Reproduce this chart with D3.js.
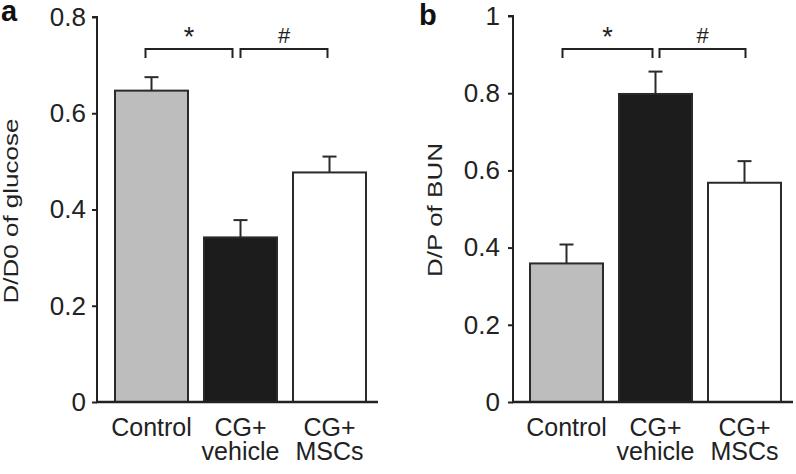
<!DOCTYPE html>
<html><head><meta charset="utf-8">
<script src="https://cdn.jsdelivr.net/npm/d3@7"></script>
<style>
html,body{margin:0;padding:0;background:#fff;}
svg{display:block;font-family:"Liberation Sans",Arial,Helvetica,sans-serif;}
</style></head>
<body>
<svg id="chart" width="796" height="474"></svg>
<script>
const categories = ["Control", "CG+|vehicle", "CG+|MSCs"];
const fills = ["#bdbdbd", "#1c1c1c", "#ffffff"];

const glucoseValues = [0.647, 0.342, 0.477];
const glucoseErrors = [0.028, 0.036, 0.033];
const glucoseTicks = [0, 0.2, 0.4, 0.6, 0.8];

const bunValues = [0.359, 0.798, 0.568];
const bunErrors = [0.049, 0.058, 0.056];
const bunTicks = [0, 0.2, 0.4, 0.6, 0.8, 1];

const sigMarks = ["*", "#"];

const svg = d3.select("#chart");

function panel(opt) {
  const g = svg.append("g");
  const x = d3.scaleBand().domain(categories).range(opt.xRange).paddingInner(0.18).paddingOuter(0.09);
  const y = d3.scaleLinear().domain(opt.domain).range([402, opt.yTop]);

  // bars
  g.selectAll("rect.bar").data(opt.values).join("rect")
    .attr("x", (d, i) => x(categories[i]))
    .attr("y", d => y(d))
    .attr("width", x.bandwidth())
    .attr("height", d => y(0) - y(d))
    .attr("fill", (d, i) => fills[i])
    .attr("stroke", "#2a2a2a").attr("stroke-width", 2);

  // error bars
  opt.values.forEach((v, i) => {
    const cx = x(categories[i]) + x.bandwidth() / 2;
    const top = y(v + opt.errors[i]);
    g.append("line").attr("x1", cx).attr("x2", cx).attr("y1", y(v)).attr("y2", top)
      .attr("stroke", "#2a2a2a").attr("stroke-width", 2);
    g.append("line").attr("x1", cx - 7).attr("x2", cx + 7).attr("y1", top).attr("y2", top)
      .attr("stroke", "#2a2a2a").attr("stroke-width", 2);
  });

  // y axis
  const ax = g.append("g").attr("transform", `translate(${opt.axisX},0)`)
    .call(d3.axisLeft(y).tickValues(opt.ticks).tickSize(5).tickPadding(opt.tickPad)
      .tickFormat(d => d === 0 ? "0" : (d === 1 ? "1" : d3.format(".1f")(d))));
  ax.select(".domain").attr("stroke", "#222").attr("stroke-width", 2).attr("d", `M-5,${y(opt.domain[1])}H0V${y(0)}`);
  ax.selectAll(".tick line").attr("stroke", "#222").attr("stroke-width", 2);
  ax.selectAll(".tick text").attr("font-size", 26).attr("fill", "#222")
    .attr("font-family", '"Liberation Sans",Arial,sans-serif');

  // x axis line
  g.append("line").attr("x1", opt.axisX - 1).attr("x2", opt.xEnd).attr("y1", y(0)).attr("y2", y(0))
    .attr("stroke", "#222").attr("stroke-width", 2.5);

  // category labels
  categories.forEach(c => {
    const cx = x(c) + x.bandwidth() / 2;
    const parts = c.split("|");
    const t = g.append("text").attr("x", cx).attr("y", 436).attr("text-anchor", "middle")
      .attr("font-size", 25).attr("fill", "#222");
    parts.forEach((p, k) => t.append("tspan").attr("x", cx).attr("dy", k === 0 ? 0 : 24).text(p));
  });

  // y label
  g.append("text").attr("transform", `translate(${opt.labelX},${opt.labelY}) rotate(-90)`)
    .attr("text-anchor", "middle").attr("font-size", 20).attr("fill", "#222")
    .attr("textLength", opt.labelLen).attr("lengthAdjust", "spacingAndGlyphs")
    .text(opt.label);

  // significance brackets
  const c = i => x(categories[i]) + x.bandwidth() / 2;
  const brackets = [[c(0) + opt.b1[0], c(1) + opt.b1[1]], [c(1) + opt.b2[0], c(2) + opt.b2[1]]];
  brackets.forEach((b, k) => {
    g.append("path").attr("d", `M${b[0]},58V49H${b[1]}V58`).attr("fill", "none")
      .attr("stroke", "#222").attr("stroke-width", 2);
    g.append("text").attr("x", (b[0] + b[1]) / 2).attr("y", k === 0 ? 46 : 43).attr("text-anchor", "middle")
      .attr("font-size", k === 0 ? 27 : 22).attr("fill", "#222").text(sigMarks[k]);
  });

  // panel letter
  g.append("text").attr("x", opt.letterX).attr("y", opt.letterY).attr("font-size", 29)
    .attr("font-weight", "bold").attr("fill", "#111").text(opt.letter);
}

panel({
  values: glucoseValues, errors: glucoseErrors, ticks: glucoseTicks, domain: [0, 0.8], yTop: 17,
  xRange: [107, 374], axisX: 97, xEnd: 378, tickPad: 6,
  label: "D/D0 of glucose", labelX: 18, labelY: 211, labelLen: 185,
  b1: [-6, -8], b2: [0, -2], letter: "a", letterX: 1, letterY: 21
});
panel({
  values: bunValues, errors: bunErrors, ticks: bunTicks, domain: [0, 1], yTop: 16,
  xRange: [522, 789], axisX: 513, xEnd: 793, tickPad: 8,
  label: "D/P of BUN", labelX: 442, labelY: 210, labelLen: 134,
  b1: [-4, -3], b2: [4, 1], letter: "b", letterX: 419, letterY: 25
});
</script>
</body></html>
